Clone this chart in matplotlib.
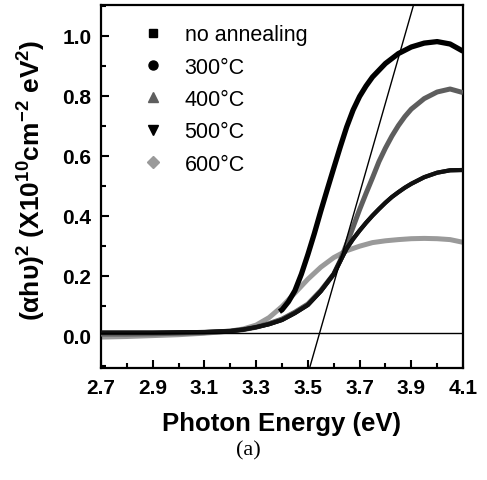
import matplotlib
matplotlib.use("Agg")
import matplotlib.pyplot as plt
from matplotlib.lines import Line2D
from matplotlib.ticker import MultipleLocator

plt.rcParams['font.family'] = ['Liberation Sans', 'DejaVu Sans']
plt.rcParams['mathtext.fontset'] = 'custom'
plt.rcParams['mathtext.bf'] = 'Liberation Sans:bold'
plt.rcParams['mathtext.rm'] = 'Liberation Sans:bold'
plt.rcParams['mathtext.default'] = 'bf'

# ---- data ----
labels = ["no annealing", "300°C", "400°C", "500°C", "600°C"]

# black curve with plateau ~0.55 (no annealing / 300°C overlap)
x_noann = [2.70, 2.80, 2.90, 3.00, 3.10, 3.20, 3.25, 3.30, 3.35, 3.40, 3.45, 3.50, 3.55, 3.60,
           3.625, 3.65, 3.675, 3.70, 3.725, 3.75, 3.775, 3.80, 3.825, 3.85, 3.875, 3.90,
           3.95, 4.00, 4.05, 4.10]
y_noann = [0.010, 0.010, 0.010, 0.011, 0.012, 0.015, 0.020, 0.028, 0.038, 0.052, 0.075, 0.102,
           0.148, 0.205, 0.248, 0.290, 0.322, 0.350, 0.376, 0.400, 0.422, 0.443, 0.462, 0.478,
           0.493, 0.506, 0.528, 0.543, 0.551, 0.552]
x_300 = list(x_noann)
y_300 = list(y_noann)

# dark grey curve, peak ~0.82
x_400 = [2.70, 2.80, 2.90, 3.00, 3.10, 3.20, 3.25, 3.30, 3.35, 3.40, 3.45, 3.50, 3.55, 3.60,
         3.625, 3.65, 3.675, 3.70, 3.725, 3.75, 3.775, 3.80, 3.825, 3.85, 3.875, 3.90,
         3.95, 4.00, 4.05, 4.10]
y_400 = [0.005, 0.005, 0.006, 0.008, 0.010, 0.015, 0.020, 0.028, 0.040, 0.055, 0.078, 0.105,
         0.150, 0.205, 0.250, 0.305, 0.362, 0.420, 0.474, 0.526, 0.580, 0.625, 0.665, 0.700,
         0.730, 0.755, 0.790, 0.812, 0.822, 0.810]

# top black curve, data start at ~3.39
x_500 = [3.39, 3.40, 3.425, 3.45, 3.475, 3.50, 3.525, 3.55, 3.575, 3.60, 3.625, 3.65, 3.675,
         3.70, 3.725, 3.75, 3.80, 3.85, 3.90, 3.95, 4.00, 4.05, 4.10]
y_500 = [0.080, 0.086, 0.113, 0.150, 0.205, 0.270, 0.340, 0.415, 0.487, 0.558, 0.628, 0.695,
         0.752, 0.797, 0.832, 0.862, 0.907, 0.940, 0.962, 0.975, 0.980, 0.972, 0.948]

# light grey curve, plateau ~0.32
x_600 = [2.70, 2.80, 2.90, 3.00, 3.10, 3.20, 3.25, 3.30, 3.35, 3.40, 3.45, 3.50, 3.55, 3.60,
         3.65, 3.70, 3.75, 3.80, 3.85, 3.90, 3.95, 4.00, 4.05, 4.10]
y_600 = [-0.005, -0.003, 0.000, 0.003, 0.008, 0.015, 0.022, 0.035, 0.060, 0.097, 0.142, 0.188,
         0.228, 0.260, 0.283, 0.298, 0.310, 0.316, 0.320, 0.323, 0.324, 0.323, 0.320, 0.311]

tangent_x = [3.506, 3.908]
tangent_y = [-0.11, 1.10]
baseline_y = 0.008

# ---- figure ----
fig = plt.figure(figsize=(4.87, 4.81), dpi=100)
ax = fig.add_axes([101/487, 1-369/481, 362/487, 363/481])

ax.plot(x_600, y_600, color='#9a9a9a', lw=3.6, solid_capstyle='butt', zorder=2)
ax.plot(x_400, y_400, color='#5e5e5e', lw=3.6, solid_capstyle='butt', zorder=3)
ax.plot(x_300, y_300, color='#111111', lw=3.0, solid_capstyle='butt', zorder=3)
ax.plot(x_noann, y_noann, color='#111111', lw=3.0, solid_capstyle='butt', zorder=3)
ax.plot(x_500, y_500, color='#000000', lw=3.8, solid_capstyle='butt', zorder=4)

ax.plot(tangent_x, tangent_y, color='black', lw=1.0, zorder=5)
ax.axhline(baseline_y, color='black', lw=1.0, zorder=5)

ax.set_xlim(2.7, 4.1)
ax.set_ylim(-0.108, 1.102)
ax.xaxis.set_minor_locator(MultipleLocator(0.1))
ax.yaxis.set_minor_locator(MultipleLocator(0.1))
ax.set_xticks([2.7, 2.9, 3.1, 3.3, 3.5, 3.7, 3.9, 4.1])
ax.set_xticklabels(["2.7", "2.9", "3.1", "3.3", "3.5", "3.7", "3.9", "4.1"])
ax.set_yticks([0.0, 0.2, 0.4, 0.6, 0.8, 1.0])
ax.set_yticklabels(["0.0", "0.2", "0.4", "0.6", "0.8", "1.0"])

ax.tick_params(which='both', direction='in', top=False, right=False)
ax.tick_params(which='major', length=6, width=1.5, labelsize=15, pad=7)
ax.tick_params(which='minor', length=3.5, width=1.5)
for lab in ax.get_xticklabels() + ax.get_yticklabels():
    lab.set_fontweight('bold')
for sp in ax.spines.values():
    sp.set_linewidth(1.6)

ax.set_xlabel("Photon Energy (eV)", fontsize=18.5, fontweight='bold', labelpad=10)
ax.set_ylabel(r"(αhυ)$^2$ (X10$^{10}$cm$^{-2}$ eV$^2$)", fontsize=19, fontweight='bold')
ax.yaxis.set_label_coords(-0.147, 0.52)

handles = [
    Line2D([], [], ls='none', marker='s', color='black', markersize=6),
    Line2D([], [], ls='none', marker='o', color='black', markersize=6.5),
    Line2D([], [], ls='none', marker='^', color='#5e5e5e', markersize=7),
    Line2D([], [], ls='none', marker='v', color='black', markersize=7),
    Line2D([], [], ls='none', marker='D', color='#9a9a9a', markersize=6),
]
ax.legend(handles, labels, loc='upper left', bbox_to_anchor=(0.09, 0.971), frameon=False,
          fontsize=15.5, handlelength=1.0, handletextpad=0.97, labelspacing=0.53,
          borderaxespad=0.0)

fig.text(248/487, 1-451/481, "(a)", fontsize=16, family=['Liberation Serif'],
         ha='center', va='center')

fig.savefig("out.png", dpi=100)
